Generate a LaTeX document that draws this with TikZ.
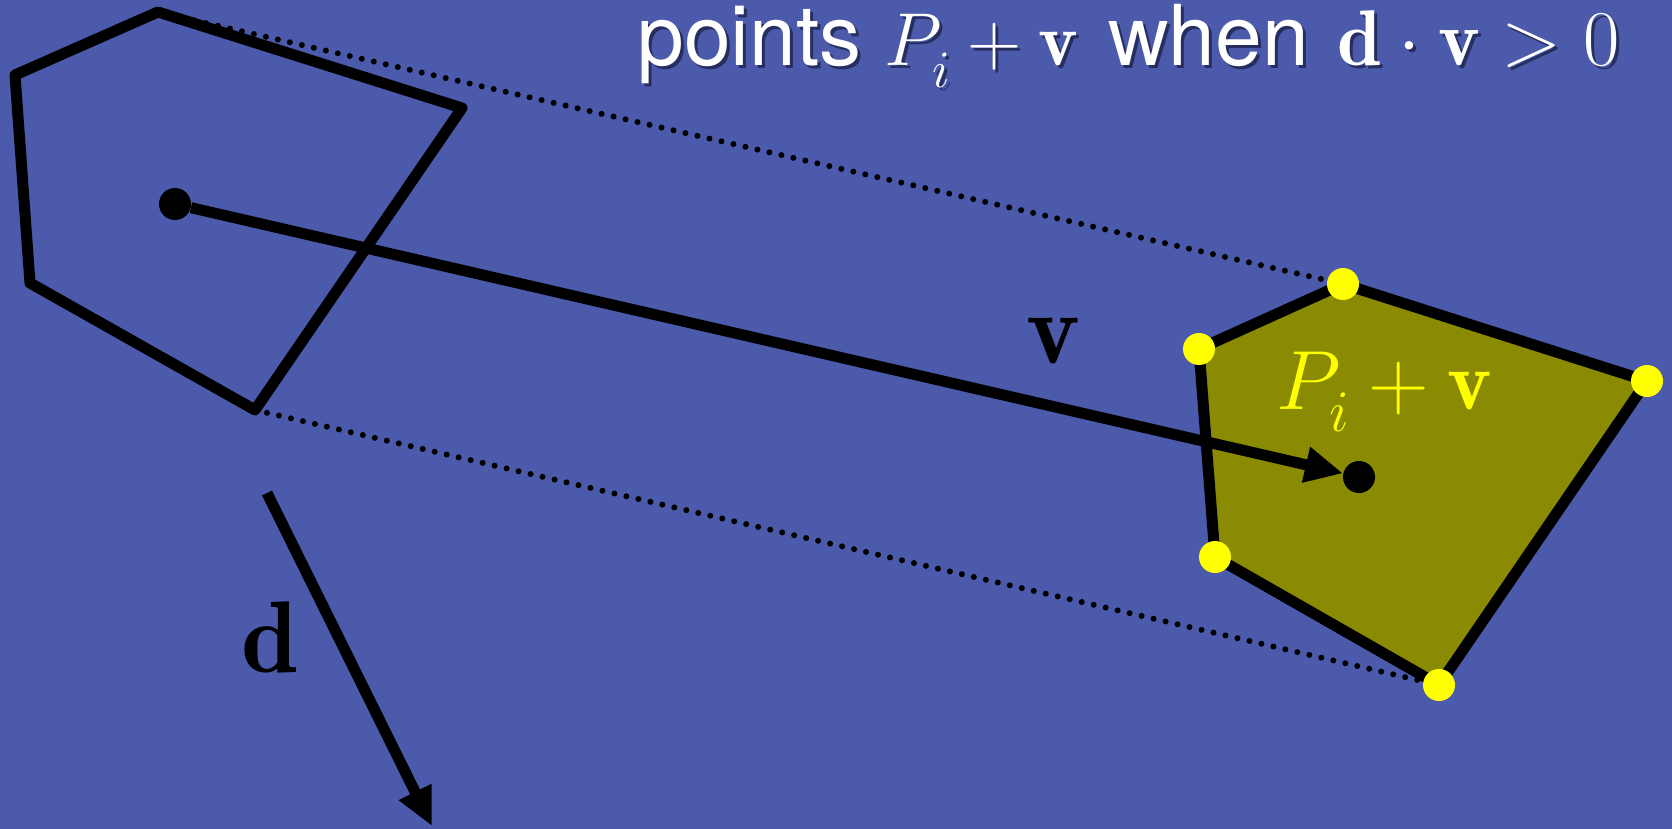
\RequirePackage{fix-cm}
\documentclass[tikz,border=0pt]{standalone}
\usepackage{fontspec}
\setsansfont{TeX Gyre Heros}
\usetikzlibrary{arrows.meta}
\definecolor{bg}{RGB}{75,90,170}
\definecolor{olivefill}{RGB}{138,138,3}
\definecolor{yel}{RGB}{255,255,0}
\definecolor{shade}{RGB}{38,45,95}
\newcommand{\Psub}{P_{\lower5pt\hbox{$\scriptstyle i$}}}
\newcommand{\titletext}{{\fontsize{42}{50}\selectfont\sffamily points }{\fontsize{37.5}{45}\selectfont$\Psub+\mathbf{v}$}\hspace{3.5pt}{\fontsize{42}{50}\selectfont\sffamily\ when }\hspace{2.5pt}{\fontsize{39.5}{45}\selectfont$\mathbf{d}\cdot\mathbf{v}>0$}}
\begin{document}
\begin{tikzpicture}[x=0.5pt,y=-0.5pt,
  edge/.style={line width=5.5pt, line join=round, line cap=round},
  dotline/.style={line width=3pt, line cap=round, dash pattern=on 0pt off 6.15pt},
  vec/.style={line width=5.5pt, -{Triangle[length=19pt,width=17pt]}},
  bdot/.style={circle, fill=black, inner sep=0pt, minimum size=16pt},
  ydot/.style={circle, fill=yel, inner sep=0pt, minimum size=16pt},
  lbl/.style={font=\fontsize{42}{50}\selectfont, inner sep=0pt},
  biglbl/.style={font=\fontsize{51}{60}\selectfont, inner sep=0pt}]
\fill[bg] (0,0) rectangle (1672,829);
\useasboundingbox (0,0) rectangle (1672,829);
% original polygon
\coordinate (A1) at (158,12);
\coordinate (A2) at (462,108);
\coordinate (A3) at (255,410);
\coordinate (A4) at (30,283);
\coordinate (A5) at (15,75);
% translated polygon
\coordinate (B1) at (1343,284);
\coordinate (B2) at (1647,381);
\coordinate (B3) at (1439,685);
\coordinate (B4) at (1215,557);
\coordinate (B5) at (1199,349);
% dotted silhouettes
\draw[dotline] (A1) -- (B1);
\draw[dotline] (A3) -- (B3);
% polygons
\draw[edge] (A1) -- (A2) -- (A3) -- (A4) -- (A5) -- cycle;
\draw[edge, fill=olivefill] (B1) -- (B2) -- (B3) -- (B4) -- (B5) -- cycle;
% centres and vector v
\node[bdot] (c0) at (175,204) {};
\node[bdot] (c1) at (1359,477) {};
\draw[vec] (c0) -- (c1);
% vector d
\coordinate (d0) at (267,493);
\coordinate (d1) at (432,826);
\draw[vec] (d0) -- (d1);
% yellow vertices
\foreach \p in {B1,B2,B3,B4,B5} \node[ydot] (y\p) at (\p) {};
% labels
\node[inner sep=0pt, anchor=base west, text=shade] (titleshadow) at (640,69) {\titletext};
\node[inner sep=0pt, anchor=base west, text=white] (title) at (637,66) {\titletext};
\node[lbl, anchor=base, text=yel] (pv) at (1384,409) {$\Psub+\mathbf{v}$};
\node[biglbl, anchor=base] (vl) at (1053,363) {$\mathbf{v}$};
\node[biglbl, anchor=base] (dl) at (270,672) {$\mathbf{d}$};
\end{tikzpicture}
\end{document}
